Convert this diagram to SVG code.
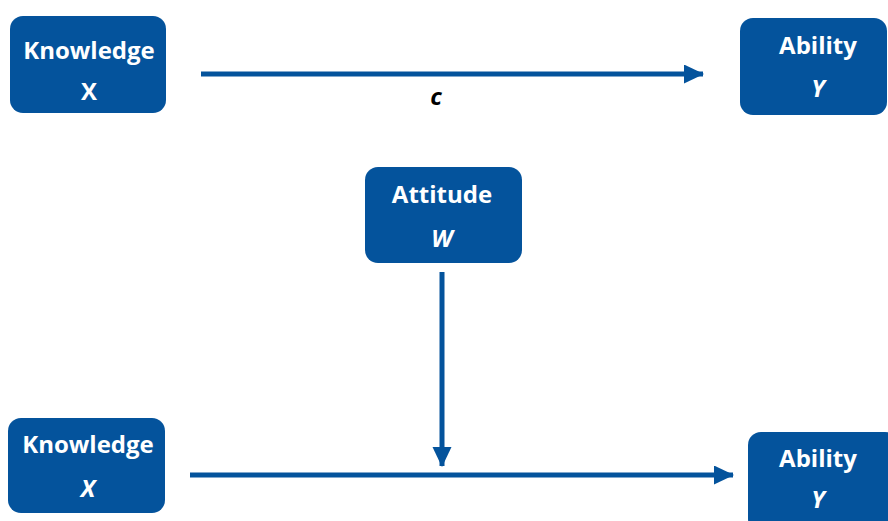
<svg xmlns="http://www.w3.org/2000/svg" width="888" height="521" viewBox="0 0 888 521">
<style>
.box{fill:#04539C}
.t{fill:#fff;font-family:"Open Sans","Liberation Sans",sans-serif;font-weight:bold;font-size:24px;text-anchor:middle}
.i{font-style:italic}
.ln{stroke:#04539C;stroke-width:5;fill:none}
.lbl{fill:#000;font-family:"Open Sans","Liberation Sans",sans-serif;font-weight:bold;font-style:italic;font-size:24px;text-anchor:middle}
</style>
<defs>
<marker id="ah" markerUnits="userSpaceOnUse" markerWidth="21" markerHeight="20" refX="19" refY="9.5" orient="auto">
<path d="M0,0 L20,9.5 L0,19 Z" fill="#04539C"/>
</marker>
</defs>
<g id="knowledge1">
<rect class="box" x="10" y="16" width="156" height="97" rx="13"/>
<text class="t" x="89" y="59">Knowledge</text>
<text class="t" x="89" y="100">X</text>
</g>
<g id="ability1">
<rect class="box" x="740" y="18" width="147" height="97" rx="13"/>
<text class="t" x="818" y="54">Ability</text>
<text class="t i" x="818" y="97">Y</text>
</g>
<g id="attitude">
<rect class="box" x="365" y="167" width="157" height="96" rx="13"/>
<text class="t" x="442" y="203">Attitude</text>
<text class="t i" x="442" y="247">W</text>
</g>
<g id="knowledge2">
<rect class="box" x="8" y="418" width="157" height="95" rx="13"/>
<text class="t" x="88" y="453">Knowledge</text>
<text class="t i" x="88" y="497">X</text>
</g>
<g id="ability2">
<rect class="box" x="748" y="432" width="150" height="100" rx="13"/>
<text class="t" x="818" y="467">Ability</text>
<text class="t i" x="818" y="508">Y</text>
</g>
<g id="connectors">
<line class="ln" x1="201" y1="74" x2="703" y2="74" marker-end="url(#ah)"/>
<text class="lbl" x="436" y="105">c</text>
<line class="ln" x1="442" y1="272" x2="442" y2="466" marker-end="url(#ah)"/>
<line class="ln" x1="190" y1="475" x2="733" y2="475" marker-end="url(#ah)"/>
</g>
</svg>
